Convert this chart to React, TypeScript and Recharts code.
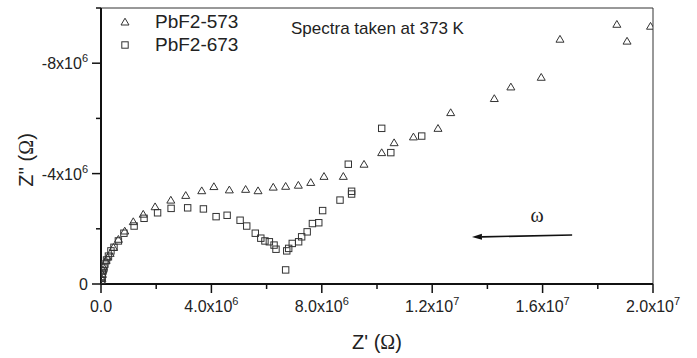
import React from "react";
import { ScatterChart, Scatter, XAxis, YAxis, ReferenceLine, Legend } from "recharts";

// values in units of 10^6 Ohm: [Z', Z'']
const pbf2_573: [number, number][] = [
  [0.03, -0.2], [0.05, -0.35], [0.07, -0.51], [0.08, -0.63], [0.18, -0.84], [0.24, -0.97],
  [0.33, -1.11], [0.45, -1.33], [0.63, -1.62], [0.86, -1.92], [1.17, -2.26], [1.53, -2.53],
  [1.96, -2.8], [2.53, -3.04], [3.07, -3.21], [3.65, -3.38], [4.09, -3.53], [4.65, -3.41],
  [5.24, -3.43], [5.69, -3.38], [6.24, -3.51], [6.69, -3.54], [7.15, -3.58], [7.6, -3.68],
  [8.08, -3.9], [8.78, -3.9], [9.53, -4.34], [10.17, -4.76], [10.62, -5.12], [11.32, -5.33],
  [12.21, -5.64], [12.67, -6.21], [14.25, -6.72], [14.85, -7.14], [15.95, -7.49], [16.63, -8.87],
  [18.69, -9.41], [19.06, -8.8], [19.91, -9.34],
];

const pbf2_673: [number, number][] = [
  [0.02, -0.04], [0.03, -0.14], [0.04, -0.25], [0.05, -0.36], [0.07, -0.47], [0.11, -0.58],
  [0.14, -0.72], [0.2, -0.87], [0.27, -1.01], [0.36, -1.2], [0.47, -1.33], [0.63, -1.56],
  [0.83, -1.84], [1.2, -2.1], [1.56, -2.38], [2.05, -2.58], [2.54, -2.74], [3.14, -2.76],
  [3.71, -2.72], [4.17, -2.44], [4.57, -2.49], [5.04, -2.31], [5.28, -2.1], [5.59, -1.84],
  [5.79, -1.66], [5.94, -1.56], [6.1, -1.53], [6.27, -1.41], [6.34, -1.26], [6.69, -0.51],
  [6.73, -1.2], [6.8, -1.29], [6.93, -1.47], [7.16, -1.53], [7.27, -1.71], [7.47, -1.89],
  [7.66, -2.19], [7.89, -2.22], [8.03, -2.66], [8.66, -3.04], [8.96, -4.34], [9.08, -3.36],
  [9.08, -3.26], [10.17, -5.64], [10.5, -4.76], [11.62, -5.36],
];

const seriesNames = ["PbF2-573", "PbF2-673"];

const xMajorTicks = [0, 4e6, 8e6, 1.2e7, 1.6e7, 2e7];
const xMajorLabels: [string, string][] = [
  ["0.0", ""], ["4.0x10", "6"], ["8.0x10", "6"], ["1.2x10", "7"], ["1.6x10", "7"], ["2.0x10", "7"],
];
const xMinorTicks = [2e6, 6e6, 1e7, 1.4e7, 1.8e7];

const yMajorTicks = [0, -4e6, -8e6];
const yMajorLabels: [string, string][] = [["0", ""], ["-4x10", "6"], ["-8x10", "6"]];
const yMinorTicks = [-2e6, -6e6, -1e7];

const FONT = "'Liberation Sans', Arial, sans-serif";
const SERIF = "'Liberation Serif', 'Times New Roman', serif";

const toPoints = (arr: [number, number][]) => arr.map(([x, y]) => ({ x: x * 1e6, y: y * 1e6 }));

const Triangle = (p: any) => (
  <polygon
    points={`${p.cx},${p.cy - 3.8} ${p.cx - 4},${p.cy + 3} ${p.cx + 4},${p.cy + 3}`}
    fill="none"
    stroke="#333"
    strokeWidth={1}
  />
);

const Square = (p: any) => (
  <rect x={p.cx - 3.2} y={p.cy - 3.2} width={6.4} height={6.4} fill="none" stroke="#333" strokeWidth={1} />
);

const XTick = (props: any) => {
  const { x, y, payload } = props;
  const i = xMajorTicks.indexOf(payload.value);
  const major = i >= 0;
  return (
    <g>
      <line x1={x} y1={y} x2={x} y2={y + (major ? 9 : 5)} stroke="#111" strokeWidth={1.5} />
      {major && (
        <text x={x} y={y + 28} textAnchor="middle" fontSize={16} fill="#222" fontFamily={FONT}>
          <tspan>{xMajorLabels[i][0]}</tspan>
          {xMajorLabels[i][1] && (
            <tspan dy={-7} fontSize={11}>
              {xMajorLabels[i][1]}
            </tspan>
          )}
        </text>
      )}
    </g>
  );
};

const YTick = (props: any) => {
  const { x, y, payload } = props;
  const i = yMajorTicks.indexOf(payload.value);
  const major = i >= 0;
  return (
    <g>
      <line x1={x} y1={y} x2={x - (major ? 9 : 5)} y2={y} stroke="#111" strokeWidth={1.5} />
      {major && (
        <text x={x - 13} y={y + 6} textAnchor="end" fontSize={16} fill="#222" fontFamily={FONT}>
          <tspan>{yMajorLabels[i][0]}</tspan>
          {yMajorLabels[i][1] && (
            <tspan dy={-7} fontSize={11}>
              {yMajorLabels[i][1]}
            </tspan>
          )}
        </text>
      )}
    </g>
  );
};

const Arrow = (p: any) => {
  const { x1, y1, x2, y2 } = p;
  const ang = Math.atan2(y2 - y1, x2 - x1);
  const len = 10;
  const w = 3;
  const bx = x2 - len * Math.cos(ang);
  const by = y2 - len * Math.sin(ang);
  const nx = -Math.sin(ang) * w;
  const ny = Math.cos(ang) * w;
  return (
    <g>
      <line x1={x1} y1={y1} x2={bx} y2={by} stroke="#111" strokeWidth={1.6} />
      <polygon points={`${x2},${y2} ${bx + nx},${by + ny} ${bx - nx},${by - ny}`} fill="#111" />
    </g>
  );
};

const LegendBox = (props: any) => {
  const payload = props.payload || [];
  return (
    <div style={{ fontFamily: FONT, fontSize: 19, color: "#222" }}>
      {payload.map((entry: any, i: number) => (
        <div key={i} style={{ display: "flex", alignItems: "center", height: 23 }}>
          <svg width={40} height={23}>
            {i === 0 ? <Triangle cx={10} cy={12} /> : <Square cx={10} cy={12} />}
          </svg>
          <span>{entry.value}</span>
        </div>
      ))}
    </div>
  );
};

export default function App() {
  return (
    <div style={{ position: "absolute", left: 0, top: 0, background: "#fff" }}>
      <ScatterChart width={697} height={358} margin={{ top: 8, right: 44, bottom: 0, left: 0 }}>
        <XAxis
          type="number"
          dataKey="x"
          domain={[0, 2e7]}
          ticks={[...xMajorTicks, ...xMinorTicks].sort((a, b) => a - b)}
          interval={0}
          height={74}
          tick={<XTick />}
          tickLine={false}
          tickSize={0}
          tickMargin={0}
          axisLine={{ stroke: "#111", strokeWidth: 2 }}
          allowDataOverflow
        />
        <YAxis
          type="number"
          dataKey="y"
          domain={[-1e7, 0]}
          reversed
          ticks={[...yMajorTicks, ...yMinorTicks]}
          interval={0}
          width={101}
          tick={<YTick />}
          tickLine={false}
          tickSize={0}
          tickMargin={0}
          axisLine={{ stroke: "#111", strokeWidth: 2 }}
          allowDataOverflow
        />
        <ReferenceLine y={-1e7} stroke="#333" strokeWidth={1} />
        <ReferenceLine x={2e7} stroke="#333" strokeWidth={1} />
        <ReferenceLine
          segment={[
            { x: 17.07e6, y: -1.775e6 },
            { x: 13.44e6, y: -1.7e6 },
          ]}
          shape={<Arrow />}
        />
        <Legend
          layout="vertical"
          align="center"
          verticalAlign="middle"
          wrapperStyle={{ position: "absolute", left: 115, top: 10, width: 200 }}
          content={<LegendBox />}
        />
        <Scatter
          name={seriesNames[0]}
          data={toPoints(pbf2_573)}
          shape={<Triangle />}
          isAnimationActive={false}
        />
        <Scatter
          name={seriesNames[1]}
          data={toPoints(pbf2_673)}
          shape={<Square />}
          isAnimationActive={false}
        />
        <text x={291} y={34} fontSize={17} fill="#222" fontFamily={FONT}>
          Spectra taken at 373 K
        </text>
        <text x={537} y={222} textAnchor="middle" fontSize={20} fill="#222" fontFamily={SERIF}>
          ω
        </text>
        <text x={377} y={349} textAnchor="middle" fontSize={20} fill="#222" fontFamily={FONT}>
          Z' (<tspan fontFamily={SERIF}>Ω</tspan>)
        </text>
        <text
          transform="translate(33,160) rotate(-90)"
          textAnchor="middle"
          fontSize={20}
          fill="#222"
          fontFamily={FONT}
        >
          Z'' (<tspan fontFamily={SERIF}>Ω</tspan>)
        </text>
      </ScatterChart>
    </div>
  );
}
